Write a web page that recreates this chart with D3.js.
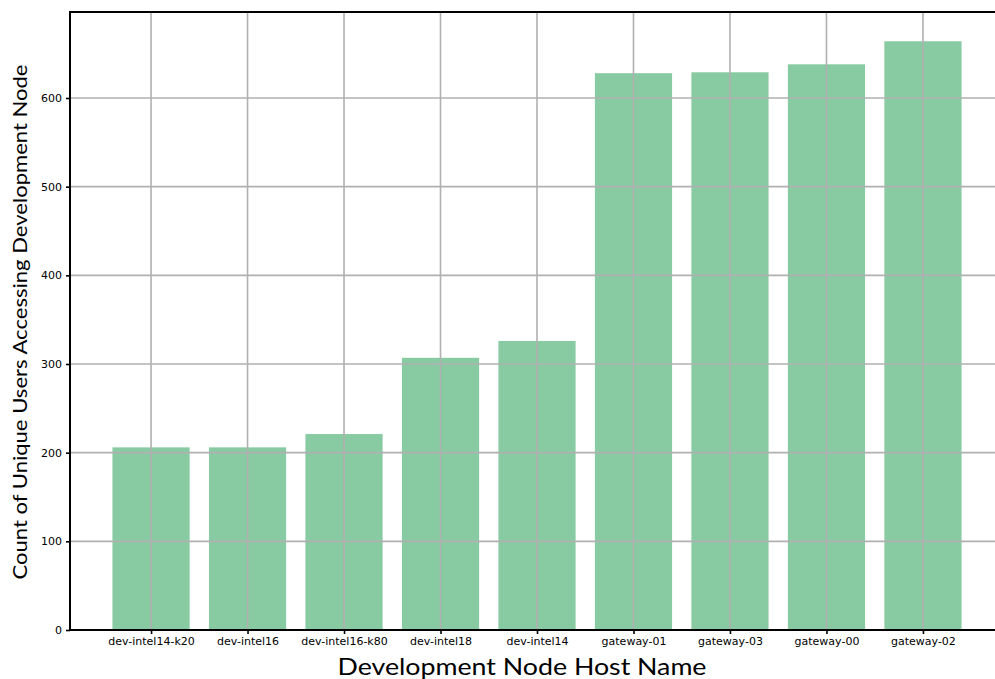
<!DOCTYPE html>
<html>
<head>
<meta charset="utf-8">
<script src="https://cdn.jsdelivr.net/npm/d3@7"></script>
<style>
  body { margin: 0; background: #fff; }
  .tick text { font-family: "DejaVu Sans", sans-serif; font-size: 11px; fill: #000; }
</style>
</head>
<body>
<svg class="chart" width="995" height="679"></svg>
<script>
var hosts = ["dev-intel14-k20", "dev-intel16", "dev-intel16-k80", "dev-intel18", "dev-intel14",
             "gateway-01", "gateway-03", "gateway-00", "gateway-02"]
var users = [206, 206, 221, 307, 326, 628, 629, 638, 664]
var y_ticks = [0, 100, 200, 300, 400, 500, 600]

var svg = d3.select(".chart")
var plot_l = 70, plot_r = 1004, plot_t = 12, plot_b = 630
var bar_w = 0.8

var x_scaler = d3.scaleLinear()
    .domain([-0.84, hosts.length - 1 + 0.84])
    .range([plot_l, plot_r])

var y_scaler = d3.scaleLinear()
    .domain([0, 697])
    .range([plot_b, plot_t])

// bars
svg.selectAll(".bar")
  .data(users)
  .enter()
  .append("rect")
  .classed("bar", true)
  .attr("x", function(d, i) {return x_scaler(i - bar_w / 2)})
  .attr("width", function(d, i) {return x_scaler(i + bar_w / 2) - x_scaler(i - bar_w / 2)})
  .attr("y", function(d) {return y_scaler(d)})
  .attr("height", function(d) {return plot_b - y_scaler(d)})
  .attr("fill", "#88cba3")

// grid drawn above bars
svg.selectAll(".hgrid")
  .data(y_ticks)
  .enter()
  .append("line")
  .attr("x1", plot_l).attr("x2", plot_r)
  .attr("y1", function(d) {return y_scaler(d)})
  .attr("y2", function(d) {return y_scaler(d)})
  .attr("stroke", "#b0b0b0").attr("stroke-width", 1.6)

svg.selectAll(".vgrid")
  .data(hosts)
  .enter()
  .append("line")
  .attr("x1", function(d, i) {return x_scaler(i)})
  .attr("x2", function(d, i) {return x_scaler(i)})
  .attr("y1", plot_t).attr("y2", plot_b)
  .attr("stroke", "#b0b0b0").attr("stroke-width", 1.6)

// axes
var x_axis = d3.axisBottom(x_scaler)
    .tickValues(d3.range(hosts.length))
    .tickFormat(function(d) {return hosts[d]})
    .tickSize(4).tickPadding(3)
svg.append("g")
  .attr("transform", "translate(0," + plot_b + ")")
  .call(x_axis)
  .call(function(g) {g.select(".domain").remove()})
  .selectAll("line").attr("stroke-width", 1.6)

var y_axis = d3.axisLeft(y_scaler)
    .tickValues(y_ticks)
    .tickSize(4).tickPadding(4)
svg.append("g")
  .attr("transform", "translate(" + plot_l + ",0)")
  .call(y_axis)
  .call(function(g) {g.select(".domain").remove()})
  .selectAll("line").attr("stroke-width", 1.6)

// spines
svg.append("line").attr("x1", plot_l).attr("x2", plot_l).attr("y1", plot_t - 1).attr("y2", plot_b + 1)
  .attr("stroke", "#000").attr("stroke-width", 2)
svg.append("line").attr("x1", plot_l - 1).attr("x2", plot_r).attr("y1", plot_b).attr("y2", plot_b)
  .attr("stroke", "#000").attr("stroke-width", 2)
svg.append("line").attr("x1", plot_l - 1).attr("x2", plot_r).attr("y1", plot_t).attr("y2", plot_t)
  .attr("stroke", "#000").attr("stroke-width", 2)

// axis titles
svg.append("text")
  .attr("x", 522).attr("y", 675)
  .attr("text-anchor", "middle")
  .attr("textLength", 369).attr("lengthAdjust", "spacingAndGlyphs")
  .style("font-family", "Lato, sans-serif").style("font-size", "23px")
  .text("Development Node Host Name")

svg.append("text")
  .attr("transform", "translate(27,322) rotate(-90)")
  .attr("text-anchor", "middle")
  .attr("textLength", 515).attr("lengthAdjust", "spacingAndGlyphs")
  .style("font-family", "Lato, sans-serif").style("font-size", "19px")
  .text("Count of Unique Users Accessing Development Node")
</script>
</body>
</html>
